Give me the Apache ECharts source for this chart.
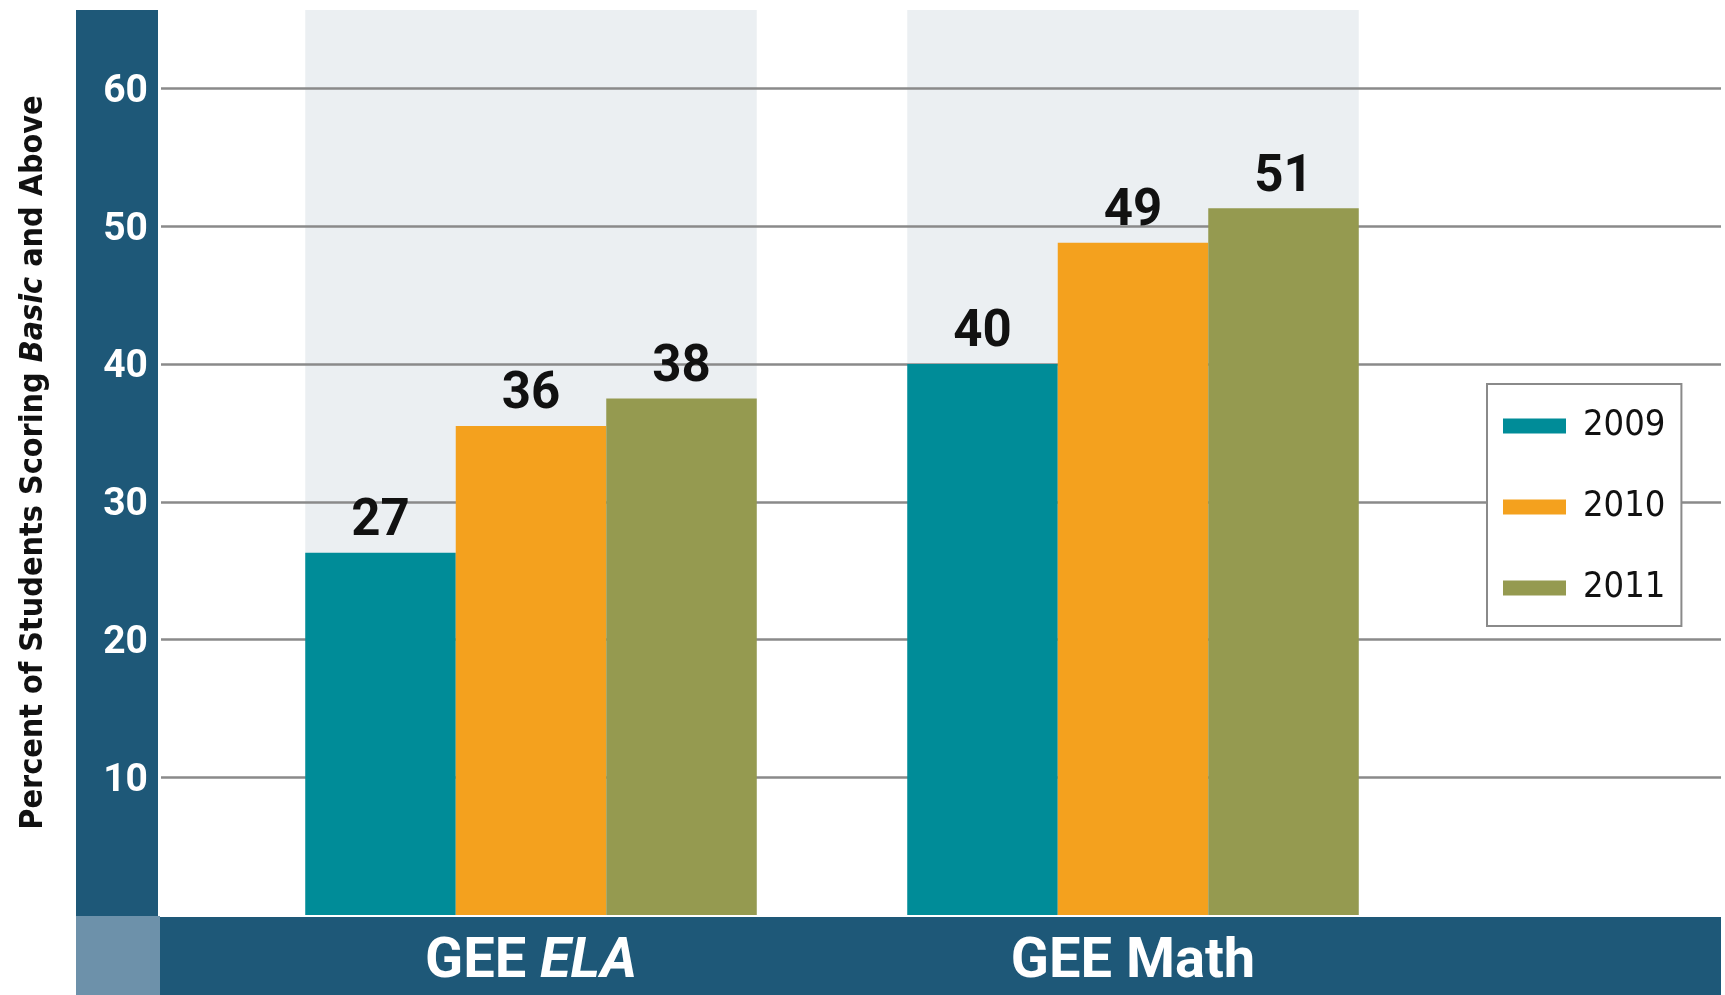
<!DOCTYPE html>
<html>
<head>
<meta charset="utf-8">
<script src="https://cdn.jsdelivr.net/npm/echarts@6/dist/echarts.min.js"></script>
<style>
  html, body { margin: 0; padding: 0; background: #fff; }
  #chart { width: 1725px; height: 995px; }
</style>
</head>
<body>
<div id="chart"></div>
<script>
// data
const categories = ['{n|GEE }{i|ELA}', '{n|GEE Math}']
const years = ['2009', '2010', '2011']
const barValues = {
  '2009': [26.3, 40.0],
  '2010': [35.5, 48.8],
  '2011': [37.5, 51.3]
}
const barLabels = {
  '2009': [27, 40],
  '2010': [36, 49],
  '2011': [38, 51]
}
const yTicks = [10, 20, 30, 40, 50, 60]
const yMax = 65.7

const colors = { '2009': '#008c98', '2010': '#f4a11e', '2011': '#959a50' }
const navy = '#1e5878'

// pick a condensed face if one is installed, size it to the reference widths
const ctx = document.createElement('canvas').getContext('2d')
function textWidth(font, s) {
  ctx.font = font
  return ctx.measureText(s).width
}
function hasFont(name) {
  const s = 'Percent of Students 2009'
  return textWidth('40px monospace', s) !== textWidth(`40px "${name}", monospace`, s)
}
const narrow = ['Liberation Sans Narrow', 'DejaVu Sans Condensed', 'Arial Narrow', 'Roboto'].find(hasFont) || 'sans-serif'
const titleW = textWidth(`bold 100px "${narrow}"`, 'Percent of Students Scoring  and Above') +
  textWidth(`italic bold 100px "${narrow}"`, 'Basic')
const titleSize = Math.min(41, Math.round(745 / titleW * 100))
const legendSize = Math.min(44, Math.round(83 / textWidth(`100px "${narrow}"`, '2009') * 100))

const chart = echarts.init(document.getElementById('chart'))

const barSeries = years.map(y => ({
  name: y,
  type: 'bar',
  xAxisIndex: 1,
  yAxisIndex: 1,
  barGap: 0,
  barCategoryGap: '25%',
  z: 2,
  itemStyle: { color: colors[y] },
  label: {
    show: true,
    position: 'top',
    distance: 5,
    fontFamily: 'Roboto',
    fontWeight: 'bold',
    fontSize: 51,
    color: '#111',
    formatter: p => barLabels[y][p.dataIndex]
  },
  data: barValues[y]
}))

const option = {
  animation: false,
  graphic: [
    { type: 'rect', z: 0, shape: { x: 76, y: 10, width: 82, height: 906 }, style: { fill: navy } },
    { type: 'rect', z: 0, shape: { x: 76, y: 916, width: 84, height: 79 }, style: { fill: '#6d91aa' } },
    { type: 'rect', z: 0, shape: { x: 160, y: 917, width: 1561, height: 78 }, style: { fill: navy } }
  ],
  legend: {
    data: years,
    orient: 'vertical',
    left: 1487,
    top: 384,
    padding: [20, 16, 16, 16],
    itemWidth: 63,
    itemHeight: 15,
    itemGap: 37,
    icon: 'rect',
    backgroundColor: '#fff',
    borderColor: '#8a8a8a',
    borderWidth: 2,
    textStyle: {
      fontFamily: narrow,
      fontSize: legendSize,
      lineHeight: 44,
      color: '#111',
      padding: [0, 0, 0, 12]
    }
  },
  grid: [
    { left: 161, right: 4, top: 10, bottom: 80 },
    { left: 230, right: 291, top: 10, bottom: 80 }
  ],
  xAxis: [
    { gridIndex: 0, type: 'value', min: 0, max: 1, show: false },
    {
      gridIndex: 1,
      type: 'category',
      data: categories,
      z: 3,
      axisLine: { show: false },
      axisTick: { show: false },
      axisLabel: {
        margin: 20,
        rich: {
          n: { fontFamily: 'Roboto', fontWeight: 'bold', fontSize: 56, color: '#fff' },
          i: { fontFamily: 'Roboto', fontWeight: 'bold', fontStyle: 'italic', fontSize: 56, color: '#fff' }
        }
      }
    },
    { gridIndex: 1, type: 'category', data: categories, show: false }
  ],
  yAxis: [
    {
      gridIndex: 0,
      type: 'value',
      min: 0,
      max: yMax,
      interval: 10,
      z: 1,
      axisLine: { show: false },
      axisTick: { show: false },
      splitLine: {
        show: true,
        showMinLine: false,
        showMaxLine: false,
        lineStyle: { color: '#8a8a8a', width: 2.5 }
      },
      axisLabel: {
        margin: 13,
        showMinLabel: false,
        showMaxLabel: false,
        formatter: v => (yTicks.includes(v) ? `{v|${v}}` : ''),
        rich: {
          v: {
            fontFamily: 'Roboto',
            fontWeight: 'bold',
            fontSize: 39,
            lineHeight: 39,
            color: '#fff',
            padding: [7, 0, 0, 0]
          }
        }
      },
      name: '{a|Percent of Students Scoring }{b|Basic}{a| and Above}',
      nameLocation: 'middle',
      nameGap: 111,
      nameTextStyle: {
        rich: {
          a: { fontFamily: narrow, fontWeight: 'bold', fontSize: titleSize, color: '#111' },
          b: { fontFamily: narrow, fontWeight: 'bold', fontStyle: 'italic', fontSize: titleSize, color: '#111' }
        }
      }
    },
    { gridIndex: 1, type: 'value', min: 0, max: yMax, show: false }
  ],
  series: [
    {
      name: 'band',
      type: 'bar',
      xAxisIndex: 2,
      yAxisIndex: 1,
      barCategoryGap: '25%',
      z: 0,
      silent: true,
      itemStyle: { color: '#ebeff2' },
      data: categories.map(() => yMax)
    }
  ].concat(barSeries)
}

chart.setOption(option)
</script>
</body>
</html>
